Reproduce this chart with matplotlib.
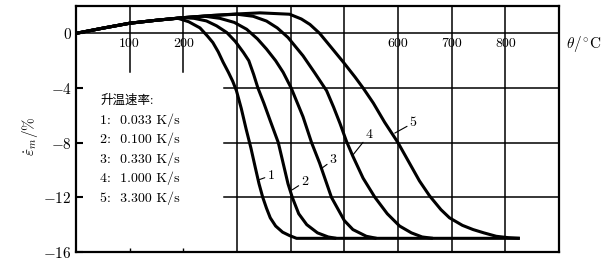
import matplotlib
matplotlib.use("Agg")
import matplotlib.pyplot as plt

plt.rcParams['mathtext.fontset'] = 'cm'
plt.rcParams['font.family'] = ['cmr10', 'Noto Sans CJK SC', 'DejaVu Sans']
plt.rcParams['axes.unicode_minus'] = False

# curves: temperature (C) and strain (%)
t1 = [0, 50, 100, 150, 190, 210, 231, 245, 255, 265, 274, 284, 292, 299, 308, 317, 326, 334, 341, 348, 355, 362, 372, 385, 398, 411, 827]
e1 = [0, 0.38, 0.74, 0.96, 1.1, 0.85, 0.4, -0.2, -0.67, -1.35, -2.1, -2.85, -3.5, -4.2, -5.5, -7, -8.4, -9.8, -11, -12, -12.8, -13.5, -14.1, -14.55, -14.8, -15, -15]
t2 = [0, 50, 100, 150, 200, 220, 243, 262, 281, 297, 312, 322, 331, 339, 350, 362, 377, 386, 395, 403, 415, 430, 450, 470, 485]
e2 = [0, 0.38, 0.74, 0.96, 1.15, 1.1, 0.91, 0.55, 0.06, -0.6, -1.4, -2.0, -3.0, -4, -5.1, -6.4, -8, -9.5, -11, -12, -13.2, -14, -14.6, -14.9, -15]
t3 = [0, 50, 100, 150, 200, 240, 268, 295, 318, 338, 355, 372, 386, 401, 423, 439, 454, 476, 500, 516, 541, 560]
e3 = [0, 0.38, 0.74, 0.96, 1.15, 1.25, 1.1, 0.8, 0.3, -0.4, -1.15, -2, -2.85, -4, -6.1, -8, -9.5, -12, -13.7, -14.36, -14.85, -15]
t4 = [0, 50, 100, 150, 200, 250, 300, 330, 355, 375, 395, 423, 445, 467, 480, 492, 504, 516, 535, 557, 580, 603, 625, 645, 665]
e4 = [0, 0.38, 0.74, 0.96, 1.15, 1.3, 1.4, 1.25, 0.9, 0.4, -0.3, -1.64, -2.9, -4.2, -5.4, -6.6, -7.9, -9, -10.6, -12, -13.2, -14.1, -14.6, -14.9, -15]
t5 = [0, 50, 100, 150, 200, 250, 300, 343, 398, 420, 436, 454, 475, 498, 520, 535, 554, 575, 600, 620, 640, 659, 680, 696, 720, 740, 760, 783, 805, 827]
e5 = [0, 0.38, 0.74, 0.96, 1.15, 1.3, 1.42, 1.5, 1.4, 1.05, 0.65, 0.0, -1, -2.1, -3.2, -4, -5.1, -6.5, -8, -9.4, -10.8, -11.9, -12.9, -13.5, -14.05, -14.36, -14.6, -14.85, -14.95, -15]

rates = ['0.033', '0.100', '0.330', '1.000', '3.300']
curve_ids = ['1', '2', '3', '4', '5']
# leader lines: point on curve, label position
lab_xy = [(342, -10.7), (403, -11.45), (457, -9.9), (516, -8.9), (594, -7.3)]
lab_txt = [(357, -10.4), (420, -10.85), (473, -9.25), (540, -7.4), (622, -6.55)]

yticks = [0, -4, -8, -12, -16]
xlabels_shown = [100, 200, 600, 700, 800]

fig = plt.figure(figsize=(6.04, 2.70), dpi=100)
ax = fig.add_axes([0.1258, 0.0667, 0.7997, 0.911])
ax.set_xlim(0, 900)
ax.set_ylim(-16, 2)

# grid, broken where the legend and the labels sit
glw = 1.1
ax.axhline(0, color='black', lw=glw, zorder=1)
for y in [-4, -8, -12]:
    ax.plot([275, 900], [y, y], color='black', lw=glw, zorder=1)
for x in [100, 200]:
    ax.plot([x, x], [2, -2.85], color='black', lw=glw, zorder=1)
for x in [300, 400, 500, 600, 700, 800]:
    ax.axvline(x, color='black', lw=glw, zorder=1)

for t, e in [(t1, e1), (t2, e2), (t3, e3), (t4, e4), (t5, e5)]:
    ax.plot(t, e, color='black', lw=2.2, solid_capstyle='butt', solid_joinstyle='round', zorder=3)

for cid, p, q in zip(curve_ids, lab_xy, lab_txt):
    ax.annotate(cid, xy=p, xytext=q, fontsize=10, ha='left', va='center',
                arrowprops=dict(arrowstyle='-', lw=0.8, shrinkA=0, shrinkB=0, color='black'))

ax.text(45, -4.9, '升温速率:', fontsize=9, ha='left', va='center')
for i, (cid, r) in enumerate(zip(curve_ids, rates)):
    ax.text(45, -6.35 - 1.43 * i, cid + ':  ' + r + ' K/s', fontsize=10, ha='left', va='center')

for x in xlabels_shown:
    ax.text(x, -0.8, str(x), fontsize=10, ha='center', va='center')
ax.text(913, -0.8, r'$\theta/^{\circ}\mathrm{C}$', fontsize=11, ha='left', va='center', clip_on=False)

ax.set_yticks(yticks)
ax.set_yticklabels(['$%d$' % v for v in yticks], fontsize=11)
ax.set_xticks([100, 200])
ax.set_xticklabels([])
ax.tick_params(axis='y', direction='in', length=5, width=1.5, pad=3)
ax.tick_params(axis='x', direction='in', length=3, width=1.0)
ax.text(-0.095, 0.47, r'$\dot{\varepsilon}_m/\%$', transform=ax.transAxes, rotation=90,
        fontsize=11, ha='center', va='center')

for s in ax.spines.values():
    s.set_linewidth(1.6)

fig.savefig('out.png', dpi=100)
